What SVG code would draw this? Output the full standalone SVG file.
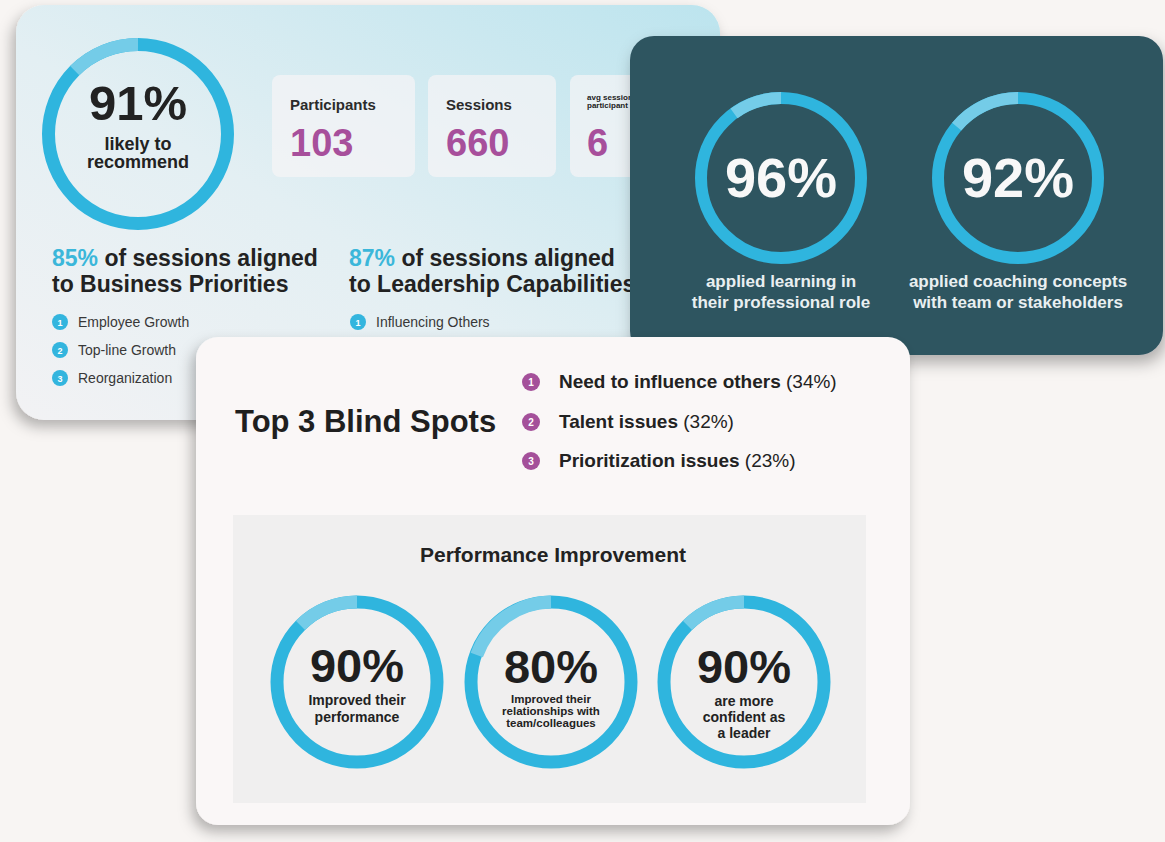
<svg xmlns="http://www.w3.org/2000/svg" width="1165" height="842" viewBox="0 0 1165 842">
  <defs>
    <linearGradient id="g1" x1="0" y1="1" x2="1" y2="0">
      <stop offset="0" stop-color="#f2f2f4"/>
      <stop offset="0.45" stop-color="#e3eff3"/>
      <stop offset="1" stop-color="#bce4ee"/>
    </linearGradient>
    <filter id="sh" x="-10%" y="-10%" width="125%" height="130%">
      <feDropShadow dx="-4" dy="7" stdDeviation="7" flood-color="#000" flood-opacity="0.28"/>
    </filter>
    <filter id="sh2" x="-10%" y="-10%" width="125%" height="130%">
      <feDropShadow dx="3" dy="8" stdDeviation="8" flood-color="#000" flood-opacity="0.3"/>
    </filter>
    <style>
      text { font-family: "Liberation Sans", Arial, sans-serif; }
      .b { font-weight: bold; }
      .dk { fill: #222222; }
      .mid { text-anchor: middle; }
      .ring { fill: none; stroke: #2fb5de; }
      .lite { fill: none; stroke: #74cce8; }
      .stat { fill: #f7f4f6; fill-opacity: 0.68; }
      .num { fill: #a74f9b; font-weight: bold; font-size: 38px; }
      .lbl { fill: #2b2b2b; font-weight: bold; font-size: 15px; }
      .bl { fill: #33b5de; }
      .pb { fill: #a4509a; }
      .dg { fill: #ffffff; font-weight: bold; text-anchor: middle; }
      .li { fill: #383838; font-size: 14px; }
      .wt { fill: #e9eff1; font-weight: bold; font-size: 17px; text-anchor: middle; }
    </style>
  </defs>
  <rect width="1165" height="842" fill="#f8f5f3"/>

  <g id="card-overview">
    <rect x="16" y="5" width="704" height="415" rx="28" fill="url(#g1)" filter="url(#sh)"/>
    <g id="ring-91">
      <circle cx="138" cy="134" r="89.5" class="ring" stroke-width="13"/>
      <path d="M138,44.5 A89.5,89.5 0 0 0 74.7,70.7" class="lite" stroke-width="13"/>
      <text x="138" y="120" class="b dk mid" font-size="49">91%</text>
      <text x="138" y="150" class="b dk mid" font-size="18">likely to</text>
      <text x="138" y="168" class="b dk mid" font-size="18">recommend</text>
    </g>
    <g id="stat-participants">
      <rect x="272" y="75" width="143" height="102" rx="8" class="stat"/>
      <text x="290" y="110" class="lbl">Participants</text>
      <text x="290" y="156" class="num">103</text>
    </g>
    <g id="stat-sessions">
      <rect x="428" y="75" width="128" height="102" rx="8" class="stat"/>
      <text x="446" y="110" class="lbl">Sessions</text>
      <text x="446" y="156" class="num">660</text>
    </g>
    <g id="stat-avg">
      <rect x="570" y="75" width="110" height="102" rx="8" class="stat"/>
      <text x="587" y="100" class="b dk" font-size="8">avg sessions</text>
      <text x="587" y="108" class="b dk" font-size="8">participant</text>
      <text x="587" y="156" class="num">6</text>
    </g>
    <g id="business-priorities">
      <text x="52" y="266" class="b dk" font-size="23"><tspan fill="#3bb7da">85%</tspan> of sessions aligned</text>
      <text x="52" y="292" class="b dk" font-size="23">to Business Priorities</text>
      <circle cx="60" cy="322" r="8" class="bl"/><text x="60" y="325.5" class="dg" font-size="9">1</text>
      <text x="78" y="327" class="li">Employee Growth</text>
      <circle cx="60" cy="350" r="8" class="bl"/><text x="60" y="353.5" class="dg" font-size="9">2</text>
      <text x="78" y="355" class="li">Top-line Growth</text>
      <circle cx="60" cy="378" r="8" class="bl"/><text x="60" y="381.5" class="dg" font-size="9">3</text>
      <text x="78" y="383" class="li">Reorganization</text>
    </g>
    <g id="leadership-capabilities">
      <text x="349" y="266" class="b dk" font-size="23"><tspan fill="#3bb7da">87%</tspan> of sessions aligned</text>
      <text x="349" y="292" class="b dk" font-size="23">to Leadership Capabilities</text>
      <circle cx="358" cy="322" r="8" class="bl"/><text x="358" y="325.5" class="dg" font-size="9">1</text>
      <text x="376" y="327" class="li">Influencing Others</text>
    </g>
  </g>

  <g id="card-applied">
    <rect x="630" y="36" width="533" height="319" rx="24" fill="#2f5461" filter="url(#sh2)"/>
    <g id="ring-96">
      <circle cx="781" cy="178" r="80" class="ring" stroke-width="12"/>
      <path d="M781,98 A80,80 0 0 0 734,113.3" class="lite" stroke-width="12"/>
      <text x="781" y="197" class="b mid" font-size="56" fill="#f8f8f8">96%</text>
      <text x="781" y="287" class="wt">applied learning in</text>
      <text x="781" y="308" class="wt">their professional role</text>
    </g>
    <g id="ring-92">
      <circle cx="1018" cy="178" r="80" class="ring" stroke-width="12"/>
      <path d="M1018,98 A80,80 0 0 0 956.7,126.6" class="lite" stroke-width="12"/>
      <text x="1018" y="197" class="b mid" font-size="56" fill="#f8f8f8">92%</text>
      <text x="1018" y="287" class="wt">applied coaching concepts</text>
      <text x="1018" y="308" class="wt">with team or stakeholders</text>
    </g>
  </g>

  <g id="card-blindspots">
    <rect x="196" y="337" width="714" height="488" rx="22" fill="#faf7f7" filter="url(#sh)"/>
    <g id="blind-spots">
      <text x="235" y="432" class="b" font-size="31" fill="#1f1f1f">Top 3 Blind Spots</text>
      <circle cx="531" cy="382" r="9" class="pb"/><text x="531" y="385.5" class="dg" font-size="10">1</text>
      <text x="559" y="388" class="dk" font-size="19"><tspan font-weight="bold">Need to influence others</tspan> (34%)</text>
      <circle cx="531" cy="422" r="9" class="pb"/><text x="531" y="425.5" class="dg" font-size="10">2</text>
      <text x="559" y="428" class="dk" font-size="19"><tspan font-weight="bold">Talent issues</tspan> (32%)</text>
      <circle cx="531" cy="461" r="9" class="pb"/><text x="531" y="464.5" class="dg" font-size="10">3</text>
      <text x="559" y="467" class="dk" font-size="19"><tspan font-weight="bold">Prioritization issues</tspan> (23%)</text>
    </g>
    <g id="performance-improvement">
      <rect x="233" y="515" width="633" height="288" fill="#f0efef"/>
      <text x="553" y="562" class="b dk mid" font-size="21">Performance Improvement</text>
      <g id="ring-90a">
        <circle cx="357" cy="682" r="80" class="ring" stroke-width="13"/>
        <path d="M357,602 A80,80 0 0 0 300.4,625.4" class="lite" stroke-width="13"/>
        <text x="357" y="682" class="b mid" font-size="47" fill="#1f1f1f">90%</text>
        <text x="357" y="705" class="b dk mid" font-size="14">Improved their</text>
        <text x="357" y="722" class="b dk mid" font-size="14">performance</text>
      </g>
      <g id="ring-80">
        <circle cx="551" cy="682" r="80" class="ring" stroke-width="13"/>
        <path d="M551,602 A80,80 0 0 0 476.8,655" class="lite" stroke-width="13"/>
        <text x="551" y="683" class="b mid" font-size="47" fill="#1f1f1f">80%</text>
        <text x="551" y="703" class="b dk mid" font-size="11.5">Improved their</text>
        <text x="551" y="715" class="b dk mid" font-size="11.5">relationships with</text>
        <text x="551" y="727" class="b dk mid" font-size="11.5">team/colleagues</text>
      </g>
      <g id="ring-90b">
        <circle cx="744" cy="682" r="80" class="ring" stroke-width="13"/>
        <path d="M744,602 A80,80 0 0 0 687.4,625.4" class="lite" stroke-width="13"/>
        <text x="744" y="683" class="b mid" font-size="47" fill="#1f1f1f">90%</text>
        <text x="744" y="706" class="b dk mid" font-size="14">are more</text>
        <text x="744" y="722" class="b dk mid" font-size="14">confident as</text>
        <text x="744" y="738" class="b dk mid" font-size="14">a leader</text>
      </g>
    </g>
  </g>
  <g id="connectors"/>
</svg>
